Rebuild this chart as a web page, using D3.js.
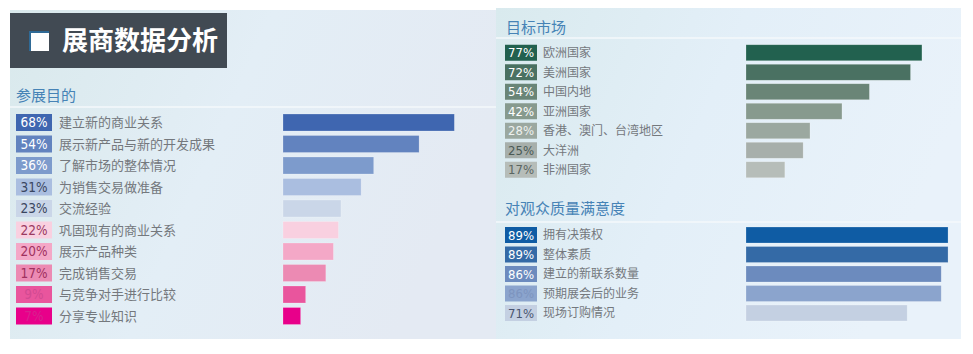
<!DOCTYPE html>
<html>
<head>
<meta charset="utf-8">
<script src="https://cdn.jsdelivr.net/npm/d3@7"></script>
<style>
  body { margin: 0; background: #fff; }
  svg { display: block; font-family: "Noto Sans CJK SC", "Noto Sans", sans-serif; }
</style>
</head>
<body>
<div id="chart"></div>
<script>
// data
const purposeLabels = ['建立新的商业关系', '展示新产品与新的开发成果', '了解市场的整体情况', '为销售交易做准备', '交流经验',
    '巩固现有的商业关系', '展示产品种类', '完成销售交易', '与竞争对手进行比较', '分享专业知识'];
const purposeValues = [68, 54, 36, 31, 23, 22, 20, 17, 9, 7];

const marketLabels = ['欧洲国家', '美洲国家', '中国内地', '亚洲国家', '香港、澳门、台湾地区', '大洋洲', '非洲国家'];
const marketValues = [77, 72, 54, 42, 28, 25, 17];

const qualityLabels = ['拥有决策权', '整体素质', '建立的新联系数量', '预期展会后的业务', '现场订购情况'];
const qualityValues = [89, 89, 86, 86, 71];

// colours
const purposeColors = ['#3f66b0', '#6283bf', '#7d9bcc', '#aabee0', '#cad6e8', '#f9d0e0', '#f4a8c7', '#ec8ab3', '#e9559d', '#e8008a'];
const purposeText = ['#fff', '#fff', '#fff', '#3a4660', '#3a4660', '#9a3a60', '#a0305e', '#a0305e', '#d24a92', '#d8208f'];
const marketColors = ['#22614f', '#4a7162', '#6a8577', '#879a8e', '#9ba8a0', '#a7afab', '#b6bdb9'];
const marketText = ['#fff', '#fff', '#fff', '#fff', '#eef1ef', '#4a5a55', '#5a6662'];
const qualityColors = ['#0f5ca4', '#346aa6', '#6c8bbe', '#8ba4cd', '#c4d0e2'];
const qualityText = ['#fff', '#fff', '#fff', '#7d94bf', '#4a5670'];

const width = 973, height = 354;
const svg = d3.select('#chart').append('svg')
    .attr('width', width)
    .attr('height', height);

const defs = svg.append('defs');
const gl = defs.append('linearGradient').attr('id', 'bgLeft').attr('x1', 0).attr('x2', 1).attr('y1', 0).attr('y2', 0.3);
gl.append('stop').attr('offset', 0).attr('stop-color', '#d9e9ec');
gl.append('stop').attr('offset', 0.5).attr('stop-color', '#e3eef6');
gl.append('stop').attr('offset', 1).attr('stop-color', '#e4eaf3');
const gr = defs.append('linearGradient').attr('id', 'bgRight').attr('x1', 0).attr('x2', 1).attr('y1', 0).attr('y2', 0.3);
gr.append('stop').attr('offset', 0).attr('stop-color', '#d9eaee');
gr.append('stop').attr('offset', 0.5).attr('stop-color', '#e3eff8');
gr.append('stop').attr('offset', 1).attr('stop-color', '#e9f2fa');

// panels
svg.append('rect').attr('x', 10).attr('y', 10).attr('width', 486).attr('height', 329).attr('fill', 'url(#bgLeft)');
svg.append('rect').attr('x', 496).attr('y', 8).attr('width', 465).attr('height', 331).attr('fill', 'url(#bgRight)');

// separators
svg.append('line').attr('x1', 10).attr('x2', 496).attr('y1', 107).attr('y2', 107).attr('stroke', '#f4f8fb').attr('stroke-width', 1.5);
svg.append('line').attr('x1', 496).attr('x2', 961).attr('y1', 38).attr('y2', 38).attr('stroke', '#f4f8fb').attr('stroke-width', 1.5);
svg.append('line').attr('x1', 496).attr('x2', 961).attr('y1', 222).attr('y2', 222).attr('stroke', '#f4f8fb').attr('stroke-width', 1.5);

// main title box
svg.append('rect').attr('x', 10).attr('y', 13).attr('width', 217).attr('height', 55).attr('fill', '#414a53');
svg.append('rect').attr('x', 29).attr('y', 31).attr('width', 20).attr('height', 20).attr('fill', '#2f6a96');
svg.append('rect').attr('x', 31).attr('y', 33).attr('width', 18).attr('height', 18).attr('fill', '#fff');
svg.append('text').attr('x', 62).attr('y', 50)
    .attr('fill', '#fff').attr('font-size', 26).attr('font-weight', 'bold')
    .text('展商数据分析');

// section titles
function sectionTitle(x, y, text) {
    svg.append('text').attr('x', x).attr('y', y)
        .attr('fill', '#4683b6').attr('font-size', 15)
        .text(text);
}
sectionTitle(16, 101, '参展目的');
sectionTitle(506, 33, '目标市场');
sectionTitle(505, 214, '对观众质量满意度');

function drawGroup(opts) {
    const y = d3.scaleBand()
        .domain(opts.labels)
        .range([opts.top, opts.top + opts.labels.length * opts.step])
        .paddingInner(opts.pad)
        .paddingOuter(opts.pad / 2);
    const x = d3.scaleLinear().domain([0, 100]).range([0, opts.scale * 100]);
    const rows = opts.labels.map((l, i) => ({ label: l, value: opts.values[i], i: i }));

    const g = svg.append('g');
    const row = g.selectAll('.row').data(rows).enter().append('g').attr('class', 'row');

    row.append('rect')
        .attr('x', opts.boxX).attr('y', d => y(d.label))
        .attr('width', opts.boxW).attr('height', y.bandwidth())
        .attr('fill', d => opts.colors[d.i]);
    row.append('text')
        .attr('x', opts.boxX + opts.boxW / 2).attr('y', d => y(d.label) + y.bandwidth() / 2)
        .attr('dy', '0.36em').attr('text-anchor', 'middle')
        .attr('font-family', '"DejaVu Sans Condensed", "Liberation Sans Narrow", sans-serif')
        .attr('font-size', opts.pctSize)
        .attr('fill', d => opts.textColors[d.i])
        .text(d => d.value + '%');
    row.append('text')
        .attr('x', opts.labelX).attr('y', d => y(d.label) + y.bandwidth() / 2)
        .attr('dy', '0.36em')
        .attr('font-size', opts.labelSize)
        .attr('fill', '#74787d')
        .text(d => d.label);
    row.append('rect')
        .attr('x', opts.barX).attr('y', d => y(d.label))
        .attr('width', d => x(d.value)).attr('height', y.bandwidth())
        .attr('fill', d => opts.colors[d.i])
        .attr('stroke', 'rgba(255,255,255,0.35)').attr('stroke-width', 0.6);
}

drawGroup({
    labels: purposeLabels, values: purposeValues, colors: purposeColors, textColors: purposeText,
    top: 111.75, step: 21.5, pad: 0.21,
    boxX: 16, boxW: 36, labelX: 59, labelSize: 13, pctSize: 13.5,
    barX: 283, scale: 2.52
});
drawGroup({
    labels: marketLabels, values: marketValues, colors: marketColors, textColors: marketText,
    top: 43, step: 19.5, pad: 0.18,
    boxX: 505, boxW: 32, labelX: 543, labelSize: 12, pctSize: 13,
    barX: 746, scale: 2.285
});
drawGroup({
    labels: qualityLabels, values: qualityValues, colors: qualityColors, textColors: qualityText,
    top: 225.25, step: 19.5, pad: 0.18,
    boxX: 505, boxW: 32, labelX: 543, labelSize: 12, pctSize: 13,
    barX: 746, scale: 2.27
});
</script>
</body>
</html>
